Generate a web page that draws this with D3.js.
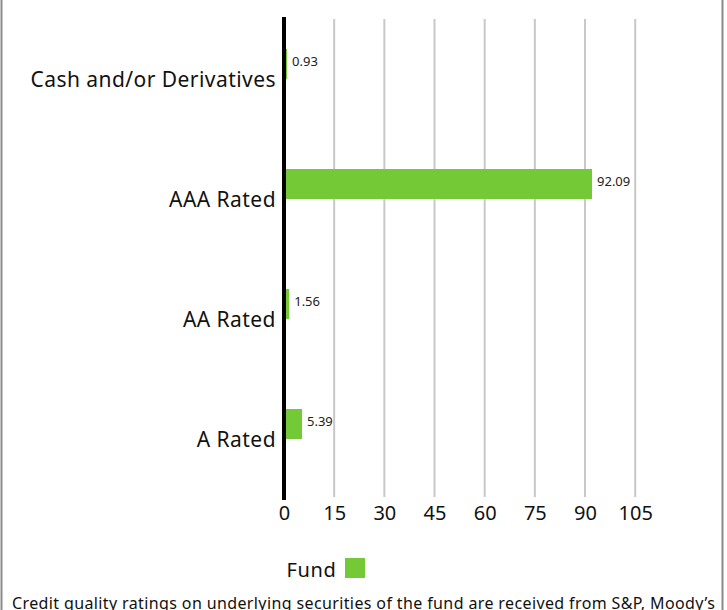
<!DOCTYPE html>
<html>
<head>
<meta charset="utf-8">
<script src="https://cdn.jsdelivr.net/npm/d3@7"></script>
<style>
  html, body { margin: 0; padding: 0; background: #fff; }
  svg { display: block; font-family: "Noto Sans", Roboto, sans-serif; }
</style>
</head>
<body>
<svg id="chart" width="727" height="610"></svg>
<script>
const categories = ["Cash and/or Derivatives", "AAA Rated", "AA Rated", "A Rated"];
const fundValues = [0.93, 92.09, 1.56, 5.39];
const tickValues = [0, 15, 30, 45, 60, 75, 90, 105];
const seriesName = "Fund";
const footnote = "Credit quality ratings on underlying securities of the fund are received from S&P, Moody\u2019s";

const svg = d3.select("#chart");
const green = "#74c936";
const font = "'Noto Sans', Roboto, sans-serif";

// frame
svg.append("line").attr("x1", 1.5).attr("x2", 1.5).attr("y1", 0).attr("y2", 610)
  .attr("stroke", "#8a8a8a").attr("stroke-width", 2);
svg.append("line").attr("x1", 722.5).attr("x2", 722.5).attr("y1", 0).attr("y2", 610)
  .attr("stroke", "#8a8a8a").attr("stroke-width", 2);

const x = d3.scaleLinear().domain([0, 105]).range([284, 635.2]);
const y = d3.scaleBand().domain(categories).range([19, 499]);

// gridlines
svg.append("g").selectAll("line").data(tickValues.filter(d => d > 0)).join("line")
  .attr("x1", d => x(d)).attr("x2", d => x(d))
  .attr("y1", 19).attr("y2", 497)
  .attr("stroke", "#c8c8c8").attr("stroke-width", 2);

// bars (top half of each band)
svg.append("g").selectAll("rect").data(categories).join("rect")
  .attr("x", x(0))
  .attr("y", d => y(d) + y.bandwidth() / 2 - 30)
  .attr("width", (d, i) => x(fundValues[i]) - x(0))
  .attr("height", 30)
  .attr("fill", green);

// value labels
svg.append("g").selectAll("text").data(categories).join("text")
  .attr("x", (d, i) => x(fundValues[i]) + 5)
  .attr("y", d => y(d) + y.bandwidth() / 2 - 30 + 17)
  .attr("font-size", 13)
  .attr("font-family", font)
  .attr("fill", "#222")
  .text((d, i) => fundValues[i].toFixed(2));

// y axis line
svg.append("line").attr("x1", 284).attr("x2", 284).attr("y1", 17).attr("y2", 500)
  .attr("stroke", "#000").attr("stroke-width", 4);

// category labels
const yAxis = d3.axisLeft(y).tickSize(0).tickPadding(0);
const gy = svg.append("g").attr("transform", "translate(276,0)").call(yAxis);
gy.select(".domain").remove();
gy.selectAll("text").attr("font-size", 21).attr("fill", "#111")
  .attr("letter-spacing", "0.45px")
  .attr("font-family", font).attr("dy", "0.4em");

// x tick labels
const xAxis = d3.axisBottom(x).tickValues(tickValues).tickSize(0).tickPadding(0)
  .tickFormat(d3.format("d"));
const gx = svg.append("g").attr("transform", "translate(0,506)").call(xAxis);
gx.select(".domain").remove();
gx.selectAll("text").attr("font-size", 20).attr("fill", "#111")
  .attr("font-family", font).attr("dy", "0.72em");

// legend
svg.append("text").attr("x", 286.5).attr("y", 577).attr("font-size", 20).attr("fill", "#111")
  .attr("letter-spacing", "0.6px")
  .attr("font-family", font).text(seriesName);
svg.append("rect").attr("x", 345).attr("y", 558).attr("width", 20).attr("height", 20).attr("fill", green);

// footnote
svg.append("text").attr("x", 12).attr("y", 609).attr("font-size", 16).attr("fill", "#111")
  .attr("letter-spacing", "0.38px")
  .attr("font-family", font).text(footnote);
</script>
</body>
</html>
